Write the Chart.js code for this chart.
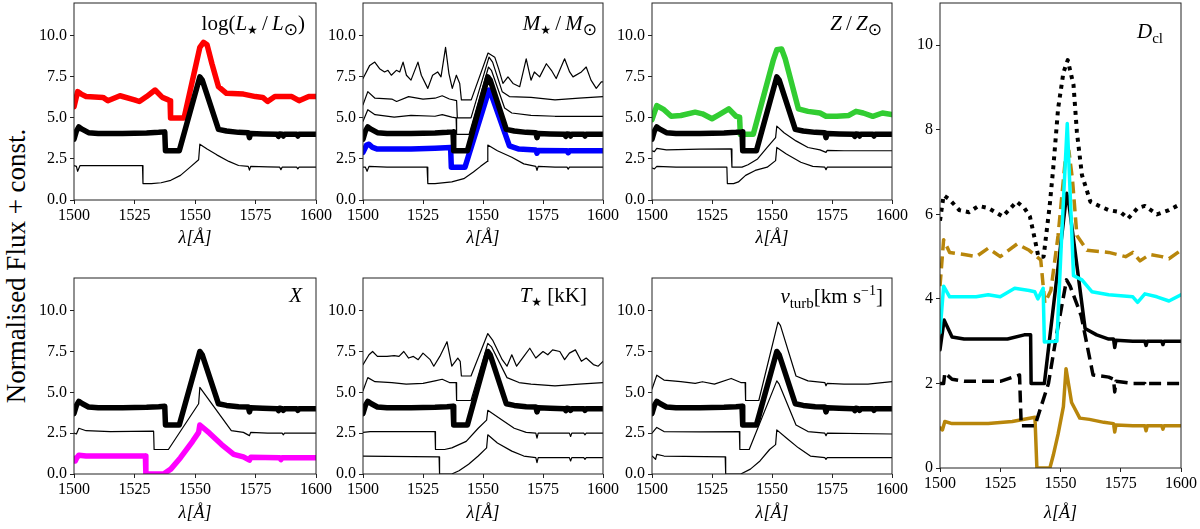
<!DOCTYPE html>
<html>
<head>
<meta charset="utf-8">
<script src="https://cdn.jsdelivr.net/npm/chart.js@4.4.1/dist/chart.umd.min.js"></script>
<style>
  html, body { margin: 0; padding: 0; background: #fff; }
  #page { position: relative; width: 1200px; height: 529px; overflow: hidden; }
  .panel { position: absolute; }
  #ylabel {
    position: absolute; left: 16px; top: 266px;
    transform: translate(-50%, -50%) rotate(-90deg);
    font: 27px "Liberation Serif", "DejaVu Serif", serif;
    white-space: nowrap; color: #000;
  }
</style>
</head>
<body>
<div id="page">
  <div id="ylabel">Normalised Flux + const.</div>
</div>
<script>
// axis ticks
const xTicks = [1500, 1525, 1550, 1575, 1600];
const smallYTicks = [0, 2.5, 5, 7.5, 10];
const tallYTicks = [0, 2, 4, 6, 8, 10];

// reference model (thick black), same in the six small panels
const refCurve = [[1500,3.7],[1501,4.2],[1502,4.45],[1503.5,4.3],[1506,4.1],[1510,4.05],[1520,4.05],[1530,4.08],[1535,4.12],[1537.5,4.15],[1537.8,3.0],[1543.5,3.0],[1552,7.5],[1553,7.3],[1559.7,4.3],[1563,4.2],[1568,4.12],[1572,4.1],[1572.5,3.8],[1573,4.05],[1578,4.02],[1584,4.0],[1584.5,3.88],[1585,4.02],[1586,4.0],[1586.5,3.9],[1587,4.0],[1592,4.0],[1592.5,3.9],[1593,4.0],[1600,4.0]];

// log(L*/Lsun)
const lumRed = [[1500,5.68],[1501.5,6.6],[1503,6.45],[1505,6.3],[1512,6.25],[1514,6.05],[1519,6.35],[1525,6.1],[1527,6.0],[1530,6.3],[1533.5,6.7],[1536.5,6.25],[1539,6.1],[1539.7,6.05],[1539.9,5.0],[1545.5,5.0],[1552,9.3],[1553.5,9.6],[1555,9.45],[1557,8.3],[1559.7,6.9],[1563,6.5],[1570,6.45],[1575,6.3],[1578,6.25],[1580,6.0],[1583,6.3],[1590,6.3],[1593,6.05],[1597,6.3],[1600,6.3]];
const lumThin = [[1500,2.1],[1501,2.05],[1501.5,1.75],[1502.5,2.1],[1510,2.1],[1528.3,2.1],[1528.5,1.0],[1532,1.0],[1536,1.05],[1540,1.2],[1544,1.5],[1548,2.0],[1551.5,2.45],[1552,3.4],[1555,3.1],[1559,2.75],[1564,2.35],[1568,2.1],[1572,2.05],[1572.5,1.82],[1573,2.05],[1580,2.02],[1585,2.0],[1585.5,1.85],[1586,2.0],[1592,2.0],[1592.5,1.9],[1593,2.0],[1600,2.0]];

// M*/Msun
const massTop = [[1500,7.4],[1502.8,8.2],[1504.9,8.4],[1506.9,8.0],[1509,7.8],[1510.4,7.9],[1511.8,7.6],[1513.9,7.9],[1515.3,7.8],[1516.7,8.4],[1518.1,7.6],[1520,7.3],[1522.9,8.4],[1524.3,7.6],[1527,6.8],[1529,7.6],[1531.1,7.8],[1532.5,7.5],[1534.4,9.3],[1535.8,7.7],[1537.2,6.8],[1538.9,7.6],[1540.3,7.1],[1541,6.1],[1545.1,6.1],[1552.1,8.95],[1554.9,8.7],[1556.5,8.0],[1558.3,7.1],[1560.4,7.5],[1562.5,7.1],[1565.3,6.9],[1568,8.6],[1570,7.3],[1571.4,7.8],[1573.6,7.5],[1576.4,8.3],[1578.5,7.9],[1580.5,7.4],[1584,8.6],[1586.1,7.8],[1587.5,7.5],[1591,7.8],[1593,8.1],[1595,7.3],[1597.2,6.8],[1599.3,7.2],[1600,7.2]];
const massMid1 = [[1500,5.8],[1502,6.6],[1505,6.2],[1512,6.15],[1514,6.0],[1519,6.3],[1525,6.15],[1530,6.2],[1533,6.35],[1536,6.15],[1539,6.05],[1539.3,5.0],[1545,5.0],[1552.5,8.7],[1554,8.4],[1558,6.6],[1561,6.3],[1570,6.25],[1580,6.1],[1590,6.2],[1600,6.3]];
const massMid2 = [[1500,4.8],[1502,5.5],[1505,5.2],[1513,5.05],[1520,5.15],[1530,5.1],[1533,5.2],[1537,5.05],[1538.8,5.0],[1539,4.0],[1544.2,4.0],[1552.3,8.1],[1553.5,7.9],[1559,5.6],[1562,5.3],[1570,5.15],[1580,5.1],[1590,5.1],[1600,5.1]];
const massBlue = [[1500,2.9],[1501.5,3.35],[1502.5,3.4],[1504,3.2],[1506,3.1],[1520,3.1],[1530,3.15],[1536.5,3.2],[1536.8,2.0],[1542.5,2.0],[1552.5,6.7],[1553.5,6.4],[1561,3.3],[1565,3.1],[1572,3.05],[1572.5,2.85],[1573,3.02],[1585,3.0],[1585.5,2.88],[1586,3.0],[1600,3.0]];
const massBottom = [[1500,2.0],[1501,2.0],[1501.7,1.75],[1502.5,2.05],[1510,2.0],[1526.7,2.0],[1527,1.0],[1530,1.0],[1537,1.1],[1542,1.3],[1546,1.7],[1549,2.05],[1551.7,2.35],[1552,3.35],[1556,3.0],[1562,2.6],[1567,2.2],[1572,2.05],[1572.5,1.8],[1573,2.05],[1580,2.0],[1585,2.0],[1585.5,1.88],[1586,2.0],[1600,2.0]];

// Z/Zsun
const zGreen = [[1500,4.9],[1502,5.75],[1505,5.5],[1508,5.1],[1512,5.15],[1518,5.35],[1521,5.25],[1525,4.95],[1528,5.2],[1532,5.55],[1535,5.1],[1536.5,5.05],[1536.8,4.0],[1542.2,4.0],[1550.5,8.5],[1552,9.15],[1554,9.2],[1555.5,8.6],[1561,5.55],[1565,5.4],[1570,5.3],[1572.5,5.1],[1577,5.1],[1582,5.15],[1585,5.4],[1588,5.3],[1592,5.1],[1596,5.3],[1600,5.2]];
const zThin1 = [[1500,3.0],[1501,2.95],[1502,3.15],[1506,3.05],[1520,3.1],[1533,3.12],[1533.3,2.0],[1537.5,2.0],[1540,2.15],[1544,2.5],[1548,3.2],[1551.5,3.8],[1552,4.5],[1555,4.1],[1560,3.6],[1565,3.2],[1570,3.05],[1572.5,2.9],[1573,3.02],[1580,3.0],[1600,3.0]];
const zThin2 = [[1500,1.95],[1501,1.9],[1502,2.05],[1510,2.0],[1531.2,2.0],[1531.4,1.0],[1534,1.0],[1536,1.1],[1539,1.5],[1543,1.8],[1548,2.0],[1551.5,2.4],[1552,3.2],[1556,2.8],[1562,2.3],[1567,2.05],[1572,2.0],[1572.5,1.85],[1573,2.0],[1600,2.0]];

// X
const hThin = [[1500,2.5],[1501,2.45],[1502,2.8],[1505,2.65],[1515,2.6],[1532.9,2.62],[1533.1,1.5],[1539,1.5],[1551.5,4.3],[1552,5.3],[1565,2.65],[1570,2.55],[1572.5,2.35],[1573,2.55],[1580,2.5],[1586,2.5],[1586.5,2.4],[1587,2.5],[1600,2.5]];
const hMagenta = [[1500,0.95],[1500.5,0.8],[1501,0.95],[1502,1.15],[1505,1.1],[1529.5,1.1],[1529.7,0.0],[1537,0.0],[1540,0.3],[1544,1.0],[1549,2.0],[1551.5,2.55],[1552,3.0],[1556,2.5],[1561,1.8],[1566,1.2],[1570,1.05],[1572.5,0.85],[1573,1.02],[1585,1.0],[1585.5,0.88],[1586,1.0],[1600,1.0]];

// T* [kK]
const tTop = [[1500,6.7],[1502.5,7.3],[1504,7.5],[1506,7.2],[1510,7.2],[1513,7.25],[1515,7.2],[1517,7.5],[1519,7.1],[1521,7.2],[1523,7.0],[1525,7.4],[1528,7.0],[1529.5,6.6],[1532,7.2],[1535,8.1],[1537,6.6],[1539.5,7.1],[1540.5,6.9],[1541,6.0],[1545,6.0],[1552,8.6],[1554,8.2],[1558,7.0],[1560,6.6],[1562,7.3],[1564,6.6],[1567,7.2],[1569.5,7.7],[1572,7.1],[1575,7.5],[1577,7.3],[1579,7.6],[1582,7.5],[1584,7.0],[1586,7.4],[1588.5,7.6],[1591,6.9],[1593,7.1],[1596,6.7],[1598,6.6],[1600,6.9]];
const tMid = [[1500,5.1],[1502,5.9],[1505,5.65],[1512,5.6],[1518,5.5],[1525,5.55],[1530,5.7],[1533,5.8],[1536,5.6],[1538.8,5.6],[1539,4.5],[1545,4.5],[1552,8.0],[1553.5,7.8],[1560,5.9],[1565,5.6],[1570,5.5],[1580,5.4],[1590,5.5],[1600,5.6]];
const tLow1 = [[1500,2.55],[1503,2.6],[1530,2.6],[1530.2,1.5],[1534,1.5],[1537,1.6],[1543,2.0],[1548,2.8],[1551.5,3.3],[1552,3.9],[1557,3.4],[1563,2.8],[1568,2.55],[1572,2.5],[1572.5,2.2],[1573,2.5],[1586,2.5],[1586.5,2.3],[1587,2.5],[1592,2.5],[1592.5,2.4],[1593,2.5],[1600,2.5]];
const tLow2 = [[1500,1.1],[1510,1.08],[1531.7,1.05],[1531.9,0.0],[1537,0.0],[1540,0.2],[1544,0.6],[1548,1.1],[1551.5,1.6],[1552,2.4],[1556,1.9],[1562,1.4],[1567,1.1],[1572,1.0],[1572.5,0.7],[1573,1.0],[1586,1.0],[1586.5,0.8],[1587,1.0],[1592,1.0],[1592.5,0.9],[1593,1.0],[1600,1.0]];

// v_turb
const vTop = [[1500,5.2],[1502,6.05],[1505,5.75],[1512,5.65],[1518,5.55],[1521,5.65],[1526,5.5],[1533,5.85],[1537,5.6],[1538.8,5.6],[1539,4.5],[1544.5,4.5],[1552.5,9.3],[1553.5,9.1],[1560,6.0],[1565,5.7],[1572,5.6],[1572.5,5.4],[1573,5.55],[1580,5.5],[1590,5.5],[1600,5.65]];
const vMid = [[1500,2.5],[1502,2.85],[1505,2.6],[1520,2.58],[1536.4,2.6],[1536.6,1.5],[1540.5,1.5],[1552,5.7],[1553,5.5],[1560,3.0],[1565,2.6],[1572,2.5],[1572.5,2.35],[1573,2.5],[1600,2.45]];
const vLow = [[1500,1.1],[1501.5,0.9],[1502,1.2],[1505,1.1],[1530.5,1.05],[1530.7,0.0],[1537,0.0],[1541,0.3],[1545,0.8],[1549,1.5],[1551.5,1.8],[1552,2.7],[1556,2.2],[1561,1.6],[1566,1.1],[1572,1.0],[1572.5,0.9],[1573,1.0],[1600,1.0]];

// D_cl
const dclDotted = [[1500,5.85],[1501.5,6.45],[1504,6.35],[1508,6.1],[1512,6.05],[1516,6.2],[1520,6.15],[1526,5.95],[1531.8,6.3],[1535,6.15],[1537.3,5.95],[1539.4,5.4],[1540.8,5.0],[1543,5.0],[1545.5,6.2],[1547,7.1],[1549,8.5],[1551.2,9.35],[1553,9.65],[1555.4,9.06],[1556.8,7.95],[1558.9,6.93],[1562.4,6.3],[1566,6.2],[1570,6.1],[1575,6.05],[1578,5.9],[1582,6.15],[1585,6.2],[1590,6.0],[1595,6.1],[1600,6.25]];
const dclGoldDashed = [[1500,4.3],[1501.5,5.4],[1504,5.1],[1510,5.05],[1515,5.0],[1520,5.2],[1525,5.0],[1532,5.3],[1537,5.15],[1541.8,4.92],[1543.5,3.9],[1546,4.2],[1549,5.5],[1552,7.3],[1553.5,7.5],[1555,6.8],[1556.8,5.5],[1561,5.15],[1570,5.1],[1577,5.0],[1580,5.1],[1583,4.9],[1587,5.05],[1592,5.0],[1595,4.95],[1600,5.15]];
const dclCyan = [[1500,3.2],[1501.5,4.3],[1504,4.05],[1515,4.05],[1520,4.1],[1525,4.05],[1531,4.25],[1537,4.2],[1539.3,4.17],[1540.6,4.0],[1542.8,4.25],[1543.3,2.98],[1548.5,3.0],[1550.5,5.5],[1552.8,8.15],[1554,6.5],[1555.4,4.55],[1558.9,4.45],[1563,4.17],[1570,4.1],[1580,4.05],[1582,3.92],[1585,4.12],[1590,4.05],[1595,3.95],[1600,4.1]];
const dclBlack = [[1500,2.8],[1501.7,3.5],[1505,3.1],[1510,3.05],[1528,3.05],[1535,3.15],[1537.6,3.15],[1537.8,2.0],[1543.3,2.0],[1552.6,6.5],[1553.6,6.2],[1560.2,3.3],[1565,3.15],[1570,3.05],[1572,3.05],[1572.5,2.85],[1573,3.02],[1580,3.0],[1585,3.0],[1585.5,2.9],[1586,3.0],[1592,3.0],[1592.5,2.92],[1593,3.0],[1600,3.0]];
const dclBlackDashed = [[1500,2.0],[1501.5,2.0],[1502,2.25],[1505,2.1],[1510,2.05],[1525,2.05],[1533,2.2],[1533.7,1.0],[1539.4,1.0],[1545,2.0],[1548.5,3.2],[1552.5,4.45],[1554,4.3],[1558.6,3.6],[1563.5,2.2],[1570,2.15],[1572,2.1],[1572.5,1.8],[1573,2.05],[1580,2.0],[1585,2.0],[1585.5,1.95],[1586,2.0],[1600,2.0]];
const dclGold = [[1500,0.95],[1501,0.9],[1502,1.1],[1505,1.05],[1520,1.05],[1530,1.1],[1539.4,1.2],[1540.2,0.0],[1545.6,0.0],[1547,0.3],[1549,0.8],[1551.2,1.45],[1552.3,2.35],[1554.6,1.55],[1558,1.18],[1562,1.15],[1568,1.08],[1572,1.05],[1572.5,0.85],[1573,1.02],[1580,1.0],[1585,1.0],[1585.5,0.88],[1586,1.0],[1592,1.0],[1592.5,0.92],[1593,1.0],[1600,1.0]];

const SERIF = '"Liberation Serif", "DejaVu Serif", serif';
const YW = 44, PT = 12, PR = 22;
const THICK = 5.5, THIN = 1.2, MID = 3.5;
const GOLD = "#b8860b";
const page = document.getElementById("page");

// draws the full box round the plot
const framePlugin = {
    id: "frame",
    afterDatasetsDraw(chart) {
        const { ctx, chartArea: a } = chart;
        ctx.save();
        ctx.strokeStyle = "#222";
        ctx.lineWidth = 1;
        ctx.strokeRect(a.left, a.top, a.right - a.left, a.bottom - a.top);
        ctx.restore();
    }
};

// panel label made of runs: r = roman, i = italic, sub / sup = small
function labelPlugin(runs, marginRight, baseline) {
    const fonts = {
        r: ["21px " + SERIF, 0],
        i: ["italic 21px " + SERIF, 0],
        sub: ["15px " + SERIF, 5],
        odot: ["17px \"DejaVu Sans\"", 5],
        star: ["12px \"DejaVu Sans\"", 4],
        sup: ["14px " + SERIF, -8]
    };
    return {
        id: "panelLabel",
        afterDraw(chart) {
            const { ctx, chartArea: a } = chart;
            ctx.save();
            ctx.fillStyle = "#000";
            ctx.textBaseline = "alphabetic";
            let total = 0;
            runs.forEach(([t, s]) => { ctx.font = fonts[s][0]; total += ctx.measureText(t).width; });
            let x = a.right - marginRight - total;
            runs.forEach(([t, s]) => {
                ctx.font = fonts[s][0];
                ctx.fillText(t, x, a.top + baseline + fonts[s][1]);
                x += ctx.measureText(t).width;
            });
            ctx.restore();
        }
    };
}

function line(curve, color, width, dash) {
    return {
        data: curve.map(p => ({ x: p[0], y: p[1] })),
        borderColor: color,
        borderWidth: width,
        borderDash: dash || [],
        borderJoinStyle: "round",
        borderCapStyle: dash ? "butt" : "round",
        pointRadius: 0,
        tension: 0,
        clip: 0
    };
}

function makePanel(rect, yMax, yTicks, yFmt, xh, label, series) {
    const [x0, y0, x1, y1] = rect;
    const div = document.createElement("div");
    div.className = "panel";
    div.style.left = (x0 - YW) + "px";
    div.style.top = (y0 - PT) + "px";
    div.style.width = (YW + x1 - x0 + PR) + "px";
    div.style.height = (PT + y1 - y0 + xh) + "px";
    const canvas = document.createElement("canvas");
    div.appendChild(canvas);
    page.appendChild(div);

    const tickFont = { family: SERIF, size: 16 };
    new Chart(canvas, {
        type: "line",
        data: { datasets: series },
        options: {
            responsive: true,
            maintainAspectRatio: false,
            animation: false,
            layout: { padding: { left: 0, top: PT, right: PR, bottom: 0 } },
            plugins: { legend: { display: false }, tooltip: { enabled: false } },
            scales: {
                x: {
                    type: "linear",
                    min: 1500,
                    max: 1600,
                    afterBuildTicks: s => { s.ticks = xTicks.map(v => ({ value: v })); },
                    afterFit: s => { s.height = xh; s.paddingLeft = 0; s.paddingRight = 0; },
                    ticks: { font: tickFont, color: "#000", padding: 2, maxRotation: 0, callback: v => String(v) },
                    grid: { drawOnChartArea: false, drawTicks: true, tickLength: 4, color: "#222" },
                    border: { display: false },
                    title: { display: true, text: "λ[Å]", font: { family: SERIF, size: 18, style: "italic" }, color: "#000", padding: 0 }
                },
                y: {
                    type: "linear",
                    min: 0,
                    max: yMax,
                    afterBuildTicks: s => { s.ticks = yTicks.map(v => ({ value: v })); },
                    afterFit: s => { s.width = YW; s.paddingTop = 0; s.paddingBottom = 0; },
                    ticks: { font: tickFont, color: "#000", padding: 3, callback: yFmt },
                    grid: { drawOnChartArea: false, drawTicks: true, tickLength: 4, color: "#222" },
                    border: { display: false }
                }
            }
        },
        plugins: [framePlugin, labelPlugin(label.runs, label.right, label.base)]
    });
}

const fmt1 = v => v.toFixed(1);
const fmt0 = v => String(v);
const SL = "\u2009/\u2009";

makePanel([74, 3, 316, 200], 12, smallYTicks, fmt1, 49,
    { runs: [["log(", "r"], ["L", "i"], ["★", "star"], [SL, "r"], ["L", "i"], ["⊙", "odot"], [")", "r"]], right: 11, base: 27 },
    [line(refCurve, "#000", THICK), line(lumRed, "#ff0000", THICK), line(lumThin, "#000", THIN)]);

makePanel([363, 3, 603, 200], 12, smallYTicks, fmt1, 49,
    { runs: [["M", "i"], ["★", "star"], [SL, "r"], ["M", "i"], ["⊙", "odot"]], right: 6, base: 27 },
    [line(refCurve, "#000", THICK), line(massBlue, "#0000ff", THICK), line(massTop, "#000", THIN),
     line(massMid1, "#000", THIN), line(massMid2, "#000", THIN), line(massBottom, "#000", THIN)]);

makePanel([652, 3, 892, 200], 12, smallYTicks, fmt1, 49,
    { runs: [["Z", "i"], [SL, "r"], ["Z", "i"], ["⊙", "odot"]], right: 10, base: 27 },
    [line(refCurve, "#000", THICK), line(zGreen, "#32cd32", THICK), line(zThin1, "#000", THIN), line(zThin2, "#000", THIN)]);

makePanel([940, 3, 1181, 468], 11, tallYTicks, fmt0, 56,
    { runs: [["D", "i"], ["cl", "sub"]], right: 18, base: 35 },
    [line(dclCyan, "#00ffff", MID), line(dclBlack, "#000", MID), line(dclGoldDashed, GOLD, MID, [12, 6]),
     line(dclDotted, "#000", 4, [4, 5]), line(dclBlackDashed, "#000", MID, [12, 6]), line(dclGold, GOLD, MID)]);

makePanel([74, 278, 316, 474], 12, smallYTicks, fmt1, 50,
    { runs: [["X", "i"]], right: 14, base: 24 },
    [line(refCurve, "#000", THICK), line(hMagenta, "#ff00ff", THICK), line(hThin, "#000", THIN)]);

makePanel([363, 278, 603, 474], 12, smallYTicks, fmt1, 50,
    { runs: [["T", "i"], ["★", "star"], [" [kK]", "r"]], right: 16, base: 24 },
    [line(refCurve, "#000", THICK), line(tTop, "#000", THIN), line(tMid, "#000", THIN), line(tLow1, "#000", THIN), line(tLow2, "#000", THIN)]);

makePanel([652, 278, 892, 474], 12, smallYTicks, fmt1, 50,
    { runs: [["v", "i"], ["turb", "sub"], ["[km s", "r"], ["−1", "sup"], ["]", "r"]], right: 9, base: 25 },
    [line(refCurve, "#000", THICK), line(vTop, "#000", THIN), line(vMid, "#000", THIN), line(vLow, "#000", THIN)]);
</script>
</body>
</html>
